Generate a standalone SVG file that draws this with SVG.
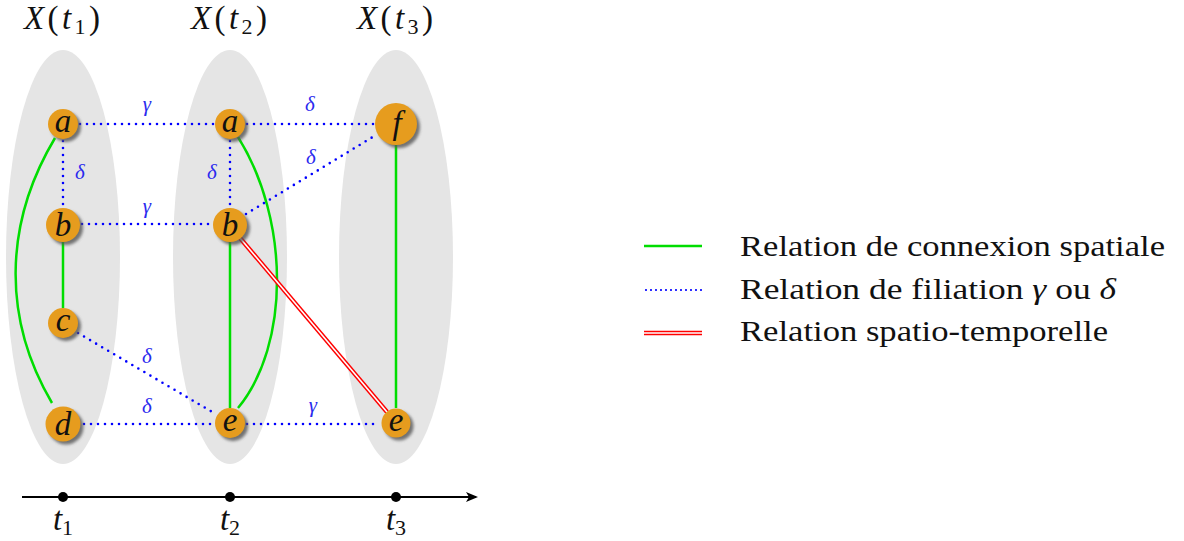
<svg xmlns="http://www.w3.org/2000/svg" width="1184" height="541" viewBox="0 0 1184 541">
<style>
.ell{fill:#e5e5e5}
.node{fill:#e69c1e}
.sh{fill:#555;opacity:0.8;filter:url(#blur)}
.lbl{font-family:'Liberation Serif','Times New Roman',Times,serif;font-style:italic;fill:#111;text-anchor:middle}
.t{font-size:33px}
.n{font-size:33px}
.up{font-style:normal}
.gr{fill:none;stroke:#00dd00;stroke-width:2.5}
.bl{fill:none;stroke:#0000ff;stroke-width:2.6;stroke-dasharray:0 7;stroke-linecap:round}
.rd{fill:none;stroke:#ff0000;stroke-width:4.5}
.wh{fill:none;stroke:#fff;stroke-width:1.6}
.gk{font-family:'Liberation Serif','Times New Roman',Times,serif;font-style:italic;font-size:21px;fill:#2a2aee;text-anchor:middle}
.leg{font-family:'Liberation Serif','Times New Roman',Times,serif;font-size:29px;fill:#111}
</style>
<defs>
<filter id="blur" x="-50%" y="-50%" width="200%" height="200%"><feGaussianBlur stdDeviation="1.5"/></filter>
<marker id="arr" markerWidth="12" markerHeight="10" refX="10" refY="5" orient="auto" markerUnits="userSpaceOnUse"><path d="M0,0 L12,5 L0,10 L3,5 Z" fill="#000"/></marker>
</defs>
<g id="regions">
<ellipse class="ell" cx="63" cy="257" rx="57" ry="207"/>
<ellipse class="ell" cx="230" cy="257" rx="57" ry="207"/>
<ellipse class="ell" cx="396" cy="257" rx="57" ry="207"/>
</g>
<g id="titles">
<text class="lbl t" x="62" y="29" textLength="76" lengthAdjust="spacing">X<tspan class="up">(</tspan>t<tspan class="up" font-size="22" dy="5">1</tspan><tspan class="up" dy="-5">)</tspan></text>
<text class="lbl t" x="229" y="29" textLength="76" lengthAdjust="spacing">X<tspan class="up">(</tspan>t<tspan class="up" font-size="22" dy="5">2</tspan><tspan class="up" dy="-5">)</tspan></text>
<text class="lbl t" x="395" y="29" textLength="76" lengthAdjust="spacing">X<tspan class="up">(</tspan>t<tspan class="up" font-size="22" dy="5">3</tspan><tspan class="up" dy="-5">)</tspan></text>
</g>
<g id="connectors">
<path class="gr" d="M55,138 C3,225 3,320 52,403"/>
<line class="gr" x1="63" y1="242" x2="63" y2="308"/>
<path class="gr" d="M238,137 C290,220 290,345 238,408"/>
<line class="gr" x1="230" y1="242" x2="230" y2="408"/>
<line class="gr" x1="396" y1="145" x2="396" y2="408"/>
<line class="rd" x1="240" y1="238" x2="387" y2="412"/>
<line class="wh" x1="240" y1="238" x2="387" y2="412"/>
<line class="bl" x1="80" y1="124" x2="214" y2="124"/>
<line class="bl" x1="247" y1="124" x2="374" y2="124"/>
<line class="bl" x1="63" y1="141" x2="63" y2="207"/>
<line class="bl" x1="230" y1="141" x2="230" y2="207"/>
<line class="bl" x1="82" y1="224" x2="212" y2="224"/>
<line class="bl" x1="246" y1="214" x2="376" y2="135"/>
<line class="bl" x1="78" y1="333" x2="214" y2="413"/>
<line class="bl" x1="84" y1="424" x2="213" y2="424"/>
<line class="bl" x1="247" y1="424" x2="380" y2="424"/>
<text class="gk" x="147" y="111">γ</text>
<text class="gk" x="310" y="111">δ</text>
<text class="gk" x="80" y="179">δ</text>
<text class="gk" x="212" y="179">δ</text>
<text class="gk" x="147" y="213">γ</text>
<text class="gk" x="311" y="164">δ</text>
<text class="gk" x="147" y="363">δ</text>
<text class="gk" x="147" y="413">δ</text>
<text class="gk" x="313" y="412">γ</text>
</g>
<g id="node-a1"><circle class="sh" cx="66" cy="127" r="15"/><circle class="node" cx="63" cy="124" r="15"/><text class="lbl n" x="63" y="132">a</text></g>
<g id="node-b1"><circle class="sh" cx="66" cy="228" r="17"/><circle class="node" cx="63" cy="225" r="17"/><text class="lbl n" x="63" y="236">b</text></g>
<g id="node-c1"><circle class="sh" cx="66" cy="326" r="15"/><circle class="node" cx="63" cy="323" r="15"/><text class="lbl n" x="63" y="331">c</text></g>
<g id="node-d1"><circle class="sh" cx="66" cy="427" r="17.5"/><circle class="node" cx="63" cy="424" r="17.5"/><text class="lbl n" x="63" y="435">d</text></g>
<g id="node-a2"><circle class="sh" cx="233" cy="127" r="15"/><circle class="node" cx="230" cy="124" r="15"/><text class="lbl n" x="230" y="132">a</text></g>
<g id="node-b2"><circle class="sh" cx="233" cy="228" r="17"/><circle class="node" cx="230" cy="225" r="17"/><text class="lbl n" x="230" y="236">b</text></g>
<g id="node-e2"><circle class="sh" cx="233" cy="426" r="15"/><circle class="node" cx="230" cy="423" r="15"/><text class="lbl n" x="230" y="431">e</text></g>
<g id="node-f3"><circle class="sh" cx="399" cy="127" r="21"/><circle class="node" cx="396" cy="124" r="21"/><text class="lbl n" x="397" y="134">f</text></g>
<g id="node-e3"><circle class="sh" cx="399" cy="426" r="14.5"/><circle class="node" cx="396" cy="423" r="14.5"/><text class="lbl n" x="396" y="431">e</text></g>
<g id="axis">
<line x1="22" y1="497" x2="476" y2="497" stroke="#000" stroke-width="2" marker-end="url(#arr)"/>
<circle cx="63" cy="497" r="5"/><circle cx="230" cy="497" r="5"/><circle cx="396" cy="497" r="5"/>
<text class="lbl t" x="63" y="530">t<tspan class="up" font-size="22" dy="5">1</tspan></text>
<text class="lbl t" x="230" y="530">t<tspan class="up" font-size="22" dy="5">2</tspan></text>
<text class="lbl t" x="396" y="530">t<tspan class="up" font-size="22" dy="5">3</tspan></text>
</g>
<g id="legend">
<line x1="644" y1="246" x2="702" y2="246" stroke="#00dd00" stroke-width="2.5"/>
<line x1="646" y1="290" x2="702" y2="290" class="bl" style="stroke-dasharray:0 5;stroke-width:2.2"/>
<line x1="644" y1="333" x2="702" y2="333" class="rd"/>
<line x1="644" y1="333" x2="702" y2="333" class="wh"/>
<text class="leg" x="740" y="256" textLength="425" lengthAdjust="spacingAndGlyphs">Relation de connexion spatiale</text>
<text class="leg" x="740" y="299" textLength="376" lengthAdjust="spacingAndGlyphs">Relation de filiation <tspan font-style="italic">γ</tspan> ou <tspan font-style="italic">δ</tspan></text>
<text class="leg" x="740" y="341" textLength="368" lengthAdjust="spacingAndGlyphs">Relation spatio-temporelle</text>
</g>
</svg>
